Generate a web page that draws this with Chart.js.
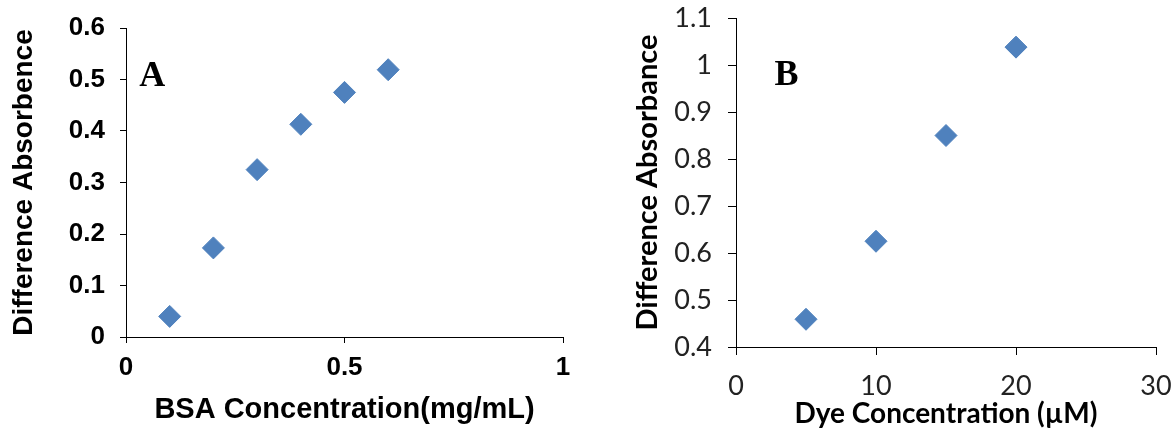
<!DOCTYPE html>
<html>
<head>
<meta charset="utf-8">
<script src="https://cdn.jsdelivr.net/npm/chart.js@4/dist/chart.umd.min.js"></script>
<style>
  html, body { margin: 0; padding: 0; background: #fff; }
  #wrap { position: relative; width: 1171px; height: 432px; overflow: hidden; }
  #chartA { position: absolute; left: 0; top: 0; }
  #chartB { position: absolute; left: 590px; top: 0; }
</style>
</head>
<body>
<div id="wrap">
  <canvas id="chartA" width="590" height="432"></canvas>
  <canvas id="chartB" width="581" height="432"></canvas>
</div>
<script>
// panel A: BSA titration
const bsaConc = [0.1, 0.2, 0.3, 0.4, 0.5, 0.6];
const bsaAbs = [0.040, 0.173, 0.325, 0.413, 0.475, 0.519];
const bsaXTicks = [0, 0.5, 1];
const bsaYTicks = [0, 0.1, 0.2, 0.3, 0.4, 0.5, 0.6];

// panel B: dye titration
const dyeConc = [5, 10, 15, 20];
const dyeAbs = [0.459, 0.625, 0.850, 1.038];
const dyeXTicks = [0, 10, 20, 30];
const dyeYTicks = [0.4, 0.5, 0.6, 0.7, 0.8, 0.9, 1, 1.1];

const markerColor = '#4F81BD';

// draws the panel letter at a data position
const panelLabel = {
  id: 'panelLabel',
  afterDraw(chart, args, opts) {
    const { ctx, scales } = chart;
    ctx.save();
    ctx.font = opts.font;
    ctx.fillStyle = '#000';
    ctx.textAlign = 'center';
    ctx.textBaseline = 'middle';
    ctx.fillText(opts.text, scales.x.getPixelForValue(opts.at[0]), scales.y.getPixelForValue(opts.at[1]));
    ctx.restore();
  }
};

function axis(ticks, opt) {
  return {
    type: 'linear',
    min: ticks[0],
    max: ticks[ticks.length - 1],
    afterBuildTicks: s => { s.ticks = ticks.map(v => ({ value: v })); },
    afterFit: s => {
      if (s.isHorizontal()) s.height = opt.size; else s.width = opt.size;
      // let layout.padding alone decide the plot edges
      s.paddingTop = s.paddingBottom = s.paddingLeft = s.paddingRight = 0;
    },
    grid: { drawOnChartArea: false, drawTicks: true, tickLength: opt.tickLength, color: '#000', lineWidth: 1 },
    border: { color: '#000', width: 1 },
    ticks: {
      padding: opt.tickPad,
      color: opt.tickColor,
      font: opt.tickFont,
      callback: v => String(v)
    },
    title: {
      display: true,
      text: opt.title,
      color: '#000',
      font: opt.titleFont,
      padding: opt.titlePad
    }
  };
}

function makeChart(id, xs, ys, cfg) {
  return new Chart(document.getElementById(id), {
    type: 'scatter',
    data: {
      datasets: [{
        data: xs.map((x, i) => ({ x: x, y: ys[i] })),
        pointStyle: 'rectRot',
        pointRadius: 11,
        backgroundColor: markerColor,
        borderColor: markerColor,
        borderWidth: 1
      }]
    },
    options: {
      responsive: false,
      animation: false,
      devicePixelRatio: 1,
      layout: { padding: cfg.padding, autoPadding: false },
      plugins: {
        legend: { display: false },
        tooltip: { enabled: false },
        panelLabel: cfg.label
      },
      scales: { x: cfg.x, y: cfg.y }
    },
    plugins: [panelLabel]
  });
}

const arialBold = size => ({ family: '"Liberation Sans", Arial, sans-serif', size: size, weight: 'bold' });

makeChart('chartA', bsaConc, bsaAbs, {
  padding: { top: 28, right: 27, left: 0, bottom: 0 },
  label: { text: 'A', at: [0.06, 0.505], font: 'bold 36px "Liberation Serif", "Times New Roman", serif' },
  x: axis(bsaXTicks, { size: 95, tickLength: 6, tickPad: 9, tickColor: '#000', tickFont: arialBold(26),
    title: 'BSA Concentration(mg/mL)', titleFont: arialBold(29), titlePad: { top: 0, bottom: 5 } }),
  y: axis(bsaYTicks, { size: 126, tickLength: 6, tickPad: 15, tickColor: '#000', tickFont: arialBold(26),
    title: 'Difference Absorbence', titleFont: arialBold(28), titlePad: { top: 7, bottom: 0 } })
});

makeChart('chartB', dyeConc, dyeAbs, {
  padding: { top: 18, right: 15, left: 0, bottom: 0 },
  label: { text: 'B', at: [3.6, 0.977], font: 'bold 36px "Liberation Serif", "Times New Roman", serif' },
  x: axis(dyeXTicks, { size: 85, tickLength: 8, tickPad: 15, tickColor: '#222',
    tickFont: { family: 'Lato, sans-serif', size: 27 },
    title: 'Dye Concentration (µM)', titleFont: { family: 'Lato, sans-serif', size: 28, weight: 'bold' },
    titlePad: { top: 0, bottom: 1 } }),
  y: axis(dyeYTicks, { size: 146, tickLength: 8, tickPad: 16, tickColor: '#222',
    tickFont: { family: 'Lato, sans-serif', size: 27 },
    title: 'Difference Absorbance', titleFont: { family: 'Lato, sans-serif', size: 29, weight: 'bold' },
    titlePad: { top: 40, bottom: 0 } })
});
</script>
</body>
</html>
